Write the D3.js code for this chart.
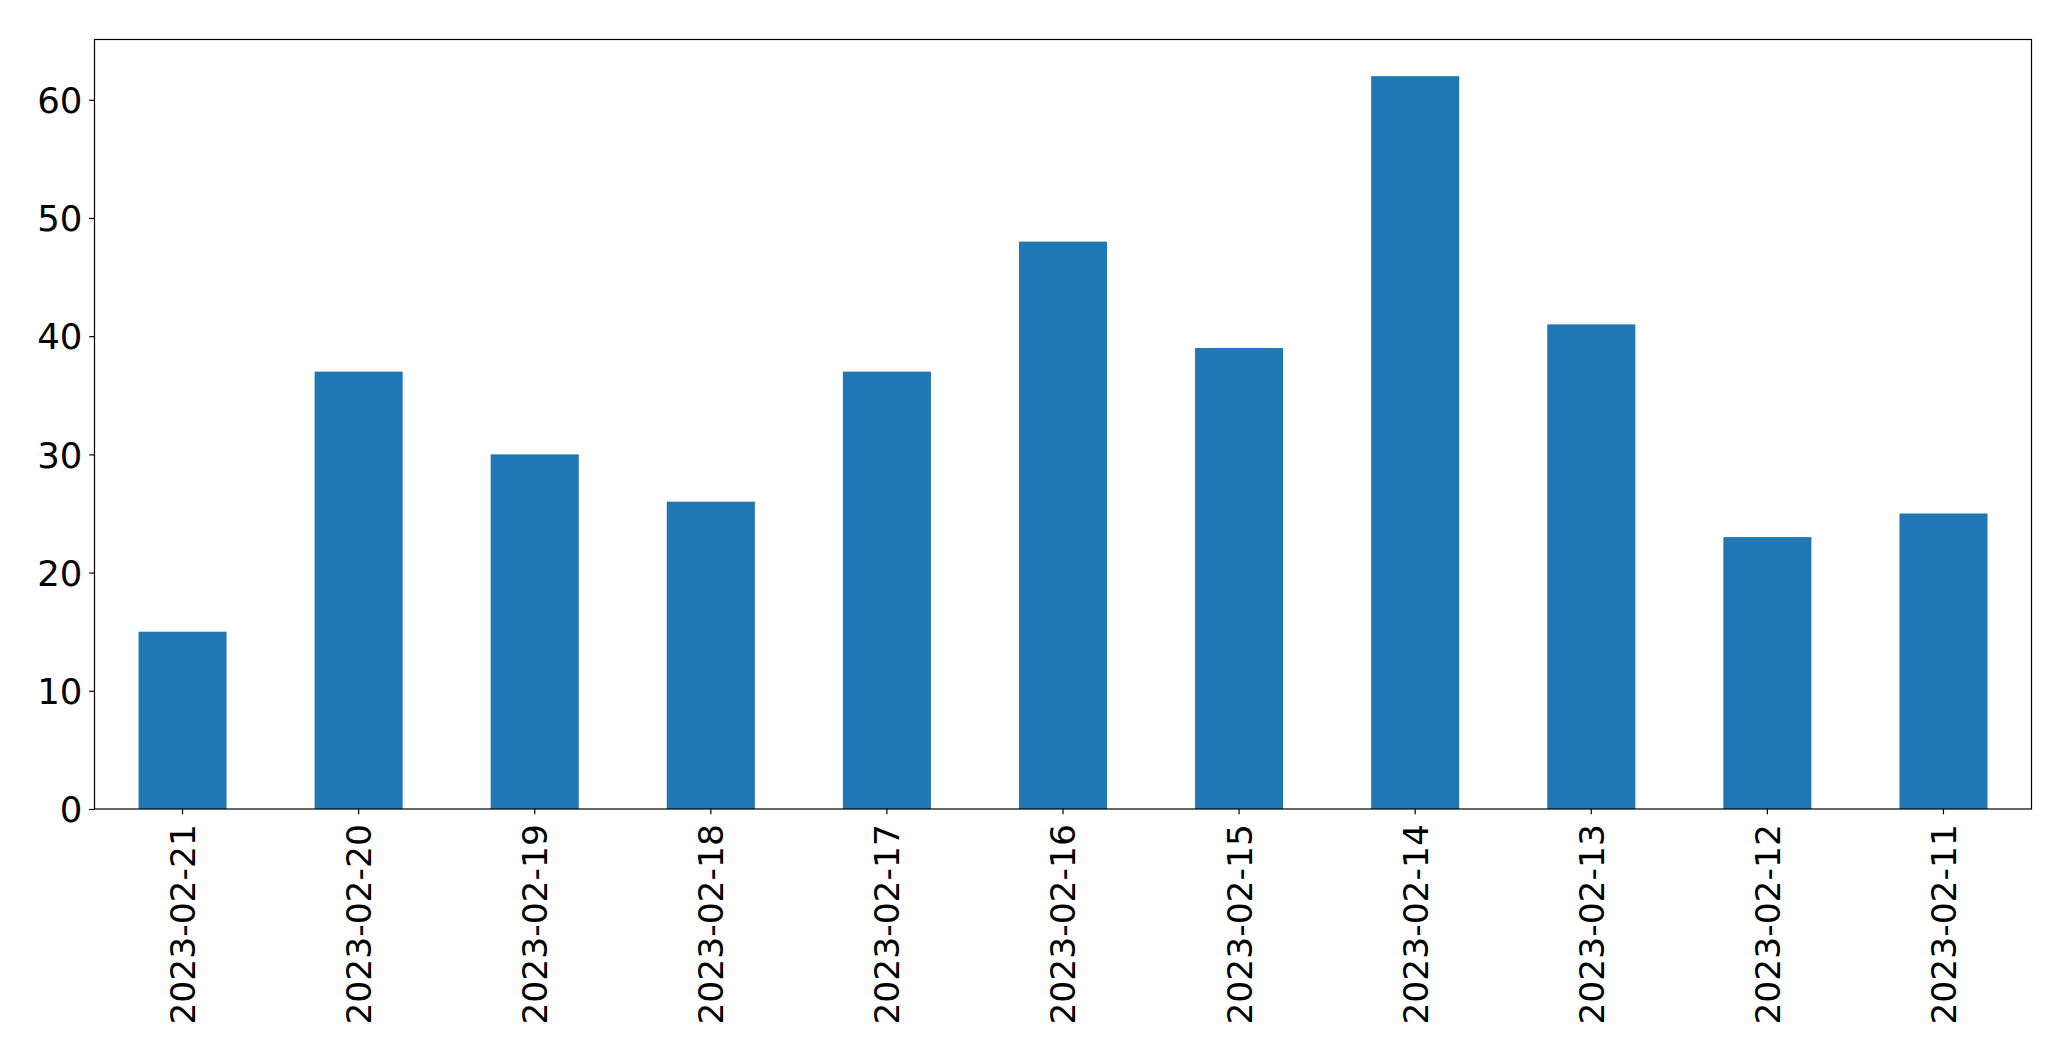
<!DOCTYPE html>
<html>
<head>
<meta charset="utf-8">
<script src="https://cdn.jsdelivr.net/npm/d3@7"></script>
<style>
  html, body { margin: 0; padding: 0; background: #fff; }
  svg { display: block; }
  text { font-family: "DejaVu Sans", sans-serif; fill: #000; }
</style>
</head>
<body>
<svg id="chart" width="2071" height="1061"></svg>
<script>
const categories = ["2023-02-21","2023-02-20","2023-02-19","2023-02-18","2023-02-17","2023-02-16","2023-02-15","2023-02-14","2023-02-13","2023-02-12","2023-02-11"];
const values = [15, 37, 30, 26, 37, 48, 39, 62, 41, 23, 25];
const yTicks = [0, 10, 20, 30, 40, 50, 60];

(function () {
const svg = d3.select("#chart");
const mLeft = 94.5, mRight = 2031.5, mTop = 39.5, mBottom = 809;
const fontSize = 34.5;
const tickLen = 5.3, pad = 5.3;

const x = d3.scaleBand().domain(categories).range([mLeft, mRight]).paddingInner(0.5).paddingOuter(0.25);
const yMax = d3.max(values) * 1.05;
const y = d3.scaleLinear().domain([0, yMax]).range([mBottom, mTop]);

// bars
svg.append("g").selectAll("rect").data(values).join("rect")
  .attr("x", (d, i) => x(categories[i]))
  .attr("width", x.bandwidth())
  .attr("y", d => y(d))
  .attr("height", d => y(0) - y(d))
  .attr("fill", "#1f77b4");

// y axis
const yAxis = svg.append("g").attr("transform", `translate(${mLeft},0)`)
  .call(d3.axisLeft(y).tickValues(yTicks).tickFormat(d3.format("d")).tickSize(tickLen).tickPadding(pad + 1.5));
yAxis.select(".domain").remove();
yAxis.selectAll("line").attr("stroke", "#000").attr("stroke-width", 1.2);
yAxis.selectAll("text").attr("font-size", 35.5).attr("font-family", "DejaVu Sans").attr("dy", "0.36em");

// x axis
const xAxis = svg.append("g").attr("transform", `translate(0,${mBottom})`)
  .call(d3.axisBottom(x).tickSize(tickLen).tickPadding(pad));
xAxis.select(".domain").remove();
xAxis.selectAll("line").attr("stroke", "#000").attr("stroke-width", 1.2);
xAxis.selectAll("text")
  .attr("font-size", fontSize)
  .attr("font-family", "DejaVu Sans")
  .attr("text-anchor", "end")
  .attr("transform", `translate(0,${tickLen + pad + 4.5}) rotate(-90)`)
  .attr("x", 0)
  .attr("y", 0)
  .attr("dy", "0.36em");

// frame
svg.append("rect")
  .attr("x", mLeft).attr("y", mTop)
  .attr("width", mRight - mLeft).attr("height", mBottom - mTop)
  .attr("fill", "none").attr("stroke", "#000").attr("stroke-width", 1.2);
})();
</script>
</body>
</html>
